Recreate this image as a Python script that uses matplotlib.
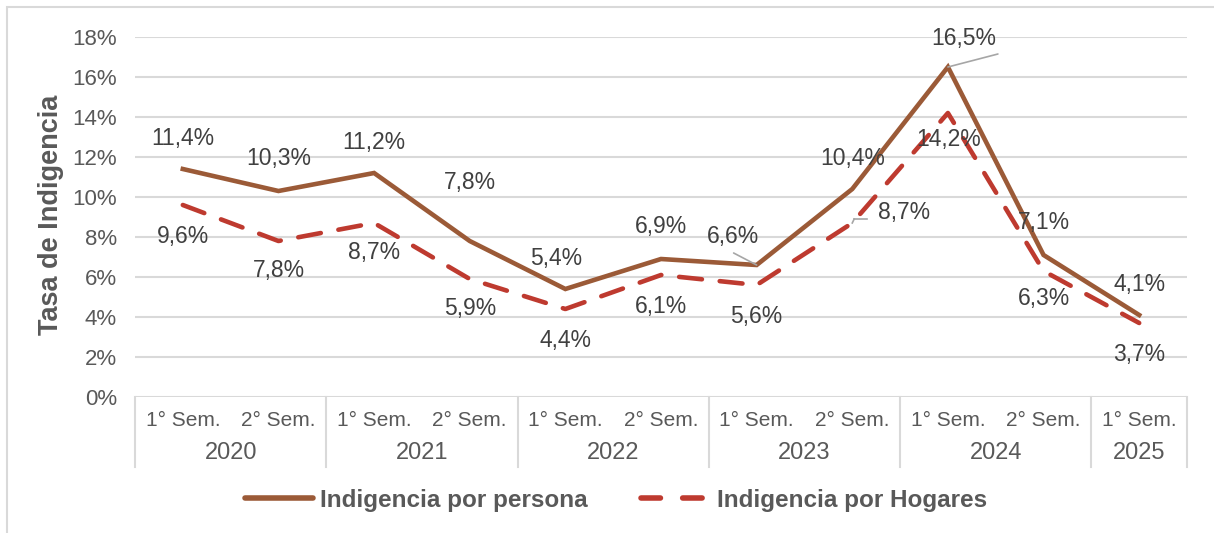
import matplotlib.pyplot as plt
import matplotlib.lines as mlines

plt.rcParams['font.family'] = ['Liberation Sans', 'DejaVu Sans']

# datos
semestres = ['1° Sem.', '2° Sem.', '1° Sem.', '2° Sem.', '1° Sem.', '2° Sem.',
             '1° Sem.', '2° Sem.', '1° Sem.', '2° Sem.', '1° Sem.']
anios = ['2020', '2021', '2022', '2023', '2024', '2025']
persona = [11.4, 10.3, 11.2, 7.8, 5.4, 6.9, 6.6, 10.4, 16.5, 7.1, 4.1]
hogares = [9.6, 7.8, 8.7, 5.9, 4.4, 6.1, 5.6, 8.7, 14.2, 6.3, 3.7]

# desplazamiento de etiquetas (pixeles)
off_persona = [(0, 31), (0, 33), (0, 31), (0, 59), (-9, 31), (0, 32),
               (-24, 28), (0, 31), (16, 29), (0, 32), (0, 31)]
off_hogares = [(0, -31), (0, -29), (0, -29), (0, -29), (0, -31), (0, -31),
               (0, -32), (52, 11), (1, -26), (0, -27), (0, -31)]

c_persona = '#9B5A37'
c_hogares = '#BE3A2F'
c_texto = '#404040'
c_gris = '#595959'
c_grid = '#D9D9D9'

fig = plt.figure(figsize=(12.14, 5.33), dpi=100)
ax = fig.add_axes([135 / 1214, 136 / 533, 1052 / 1214, 360 / 533])

x = list(range(len(persona)))
ax.plot(x, persona, color=c_persona, lw=3.3, solid_joinstyle='miter', zorder=3)
ax.plot(x, hogares, color=c_hogares, lw=3.3, dashes=(5.0, 3.9),
        dash_capstyle='round', zorder=3)

def etiquetas(vals, offs):
    for i, (v, (dx, dy)) in enumerate(zip(vals, offs)):
        txt = f'{v:.1f}%'.replace('.', ',')
        ax.annotate(txt, (i, v), xytext=(dx, dy), textcoords='offset pixels',
                    ha='center', va='center', fontsize=16.5, color=c_texto,
                    zorder=5)

etiquetas(persona, off_persona)
etiquetas(hogares, off_hogares)

# lineas guia
ax.annotate('', (6, persona[6]), xytext=(-23, 12), textcoords='offset pixels',
            arrowprops=dict(arrowstyle='-', color='#A6A6A6', lw=1.2, shrinkA=0, shrinkB=0))
ax.annotate('', (8, persona[8]), xytext=(50, 13), textcoords='offset pixels',
            arrowprops=dict(arrowstyle='-', color='#A6A6A6', lw=1.2, shrinkA=0, shrinkB=0))
ax.plot([7.02, 7.15], [8.9, 8.9], color='#A6A6A6', lw=1.2, zorder=4)
ax.plot([7.02, 7.0], [8.9, 8.7], color='#A6A6A6', lw=1.2, zorder=4)

ax.set_xlim(-0.5, 10.5)
ax.set_ylim(0, 18)
ax.set_yticks(range(0, 19, 2))
ax.set_yticklabels([f'{v}%' for v in range(0, 19, 2)], fontsize=16, color=c_gris)
ax.tick_params(axis='y', length=0, pad=13)
ax.grid(axis='y', color=c_grid, lw=1.5)
ax.set_axisbelow(True)
for s in ax.spines.values():
    s.set_visible(False)

# eje x de dos niveles
ax.set_xticks(x)
ax.set_xticklabels([])
ax.tick_params(axis='x', length=0)
tr = ax.get_xaxis_transform()
for i, lab in enumerate(semestres):
    ax.text(i, -23 / 360, lab, transform=tr, ha='center', va='center',
            fontsize=15, color=c_gris)
centros = [0.5, 2.5, 4.5, 6.5, 8.5, 10]
for cx, a in zip(centros, anios):
    ax.text(cx, -56 / 360, a, transform=tr, ha='center', va='center',
            fontsize=17, color=c_gris)
for sx in [-0.5, 1.5, 3.5, 5.5, 7.5, 9.5, 10.5]:
    ax.plot([sx, sx], [0, -70 / 360], transform=tr, color=c_grid, lw=1.5,
            clip_on=False)

fig.text(51 / 1214, 1 - 215 / 533, 'Tasa de Indigencia', rotation=90,
         ha='center', va='center', fontsize=19.5, fontweight='bold', color=c_gris)

# leyenda
h1 = mlines.Line2D([], [], color=c_persona, lw=4, solid_capstyle='round')
h2 = mlines.Line2D([], [], color=c_hogares, lw=4, dashes=(3.5, 4.0),
                   dash_capstyle='round')
leg = fig.legend([h1, h2], ['Indigencia por persona', 'Indigencia por Hogares'],
                 loc='center', bbox_to_anchor=(616 / 1214, 33 / 533), ncol=2,
                 frameon=False, handlelength=2.8, columnspacing=2.2,
                 handletextpad=0.3, prop={'size': 17.5, 'weight': 'bold'})
for t in leg.get_texts():
    t.set_color(c_gris)

# borde exterior
fig.add_artist(plt.Rectangle((7 / 1214, -0.1), 1.2, 1.1 - 7 / 533,
                             transform=fig.transFigure, fill=False,
                             ec=c_grid, lw=1.5))

fig.savefig('out.png', dpi=100)
